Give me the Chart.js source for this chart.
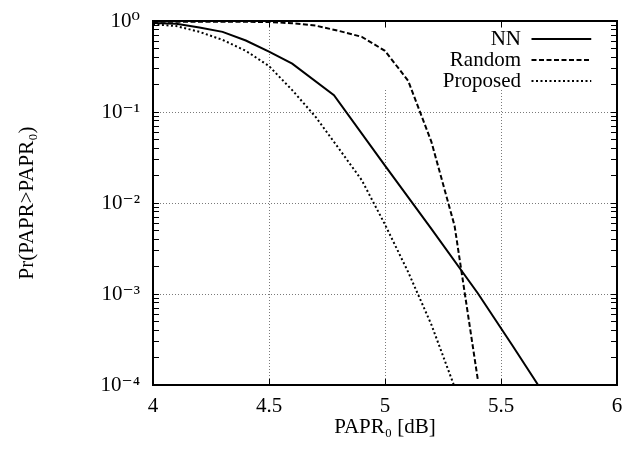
<!DOCTYPE html>
<html><head><meta charset="utf-8">
<script src="https://cdn.jsdelivr.net/npm/chart.js@4"></script>
<style>html,body{margin:0;padding:0;background:#fff}canvas{display:block}</style>
</head><body>
<canvas id="c" width="635" height="453"></canvas>
<script>
// ---- data ----
const seriesNames = ['NN', 'Random', 'Proposed'];

const xNN = [4.0, 4.1, 4.2, 4.3, 4.4, 4.5, 4.6, 4.78, 5.0, 5.2, 5.4, 5.55, 5.66];
const yNN = [0.95, 0.93, 0.85, 0.76, 0.61, 0.46, 0.34, 0.153, 0.0257, 0.0052, 0.00102, 0.00027, 0.0001];

const xRandom = [4.0, 4.2, 4.4, 4.5, 4.6, 4.7, 4.8, 4.9, 5.0, 5.1, 5.2, 5.3, 5.4];
const yRandom = [0.98, 0.98, 0.98, 0.975, 0.945, 0.89, 0.78, 0.67, 0.47, 0.22, 0.047, 0.0056, 0.000115];

const xProposed = [4.0, 4.1, 4.2, 4.3, 4.4, 4.5, 4.6, 4.7, 4.8, 4.9, 5.0, 5.1, 5.2, 5.3];
const yProposed = [0.92, 0.88, 0.76, 0.62, 0.47, 0.32, 0.174, 0.089, 0.040, 0.0178, 0.0058, 0.00174, 0.00046, 0.000095];

const xTickValues = [4, 4.5, 5, 5.5, 6];
const xTickLabels = ['4', '4.5', '5', '5.5', '6'];
const yDecadeExponents = [-4, -3, -2, -1, 0];
const yTickLabels = ['10\u207B\u2074', '10\u207B\u00B3', '10\u207B\u00B2', '10\u207B\u00B9', '10\u2070'];

const xTitle = 'PAPR\u2080 [dB]';
const yTitle = 'Pr(PAPR>PAPR\u2080)';

// ---- helpers ----
const yTickValues = [];
yDecadeExponents.forEach((e, i) => {
  const base = Math.pow(10, e);
  if (i === yDecadeExponents.length - 1) { yTickValues.push(base); return; }
  for (let m = 1; m <= 9; m++) yTickValues.push(m * base);
});
function decadeIndex(v) {
  const l = Math.log10(v);
  return yDecadeExponents.findIndex(e => Math.abs(l - e) < 1e-6);
}
function yLabel(v) { const i = decadeIndex(v); return i >= 0 ? yTickLabels[i] : ''; }
function xLabel(v) { const i = xTickValues.findIndex(t => Math.abs(t - v) < 1e-9); return i >= 0 ? xTickLabels[i] : ''; }
const GRID = '#7a7a7a';
function yGridColor(ctx) {
  if (!ctx.tick) return 'rgba(0,0,0,0)';
  const i = decadeIndex(ctx.tick.value);
  return (i > 0 && i < yDecadeExponents.length - 1) ? GRID : 'rgba(0,0,0,0)';
}
function xGridColor(ctx) {
  if (!ctx.tick) return 'rgba(0,0,0,0)';
  const v = ctx.tick.value;
  return (v > xTickValues[0] + 1e-9 && v < xTickValues[xTickValues.length - 1] - 1e-9) ? GRID : 'rgba(0,0,0,0)';
}
const pts = (xs, ys) => xs.map((x, i) => ({ x: x, y: ys[i] }));
const noPad = s => { s.paddingTop = 0; s.paddingBottom = 0; s.paddingLeft = 0; s.paddingRight = 0; };

Chart.defaults.font.family = '"Liberation Serif", "DejaVu Serif", serif';
Chart.defaults.color = '#000';

const legendPlace = {
  id: 'legendPlace',
  afterLayout(chart) {
    const L = chart.legend, a = chart.chartArea;
    const right = a.right - 25.5;
    L.left = right - L.width; L.right = right;
    L.top = a.top + 7.5; L.bottom = L.top + L.height;
  }
};
const keyBackdrop = {
  id: 'keyBackdrop',
  beforeDatasetsDraw(chart) {
    const { ctx, chartArea: a, scales } = chart;
    const x0 = scales.x.getPixelForValue(4.97);
    const y1 = scales.y.getPixelForValue(0.18);
    ctx.save();
    ctx.fillStyle = '#fff';
    ctx.fillRect(x0, a.top + 7, a.right - 10 - x0, y1 - a.top - 7);
    ctx.restore();
    chart.legend.draw(a);
  }
};

const sideAxis = (type, position, min, max, ticksFn, fit) => ({
  type, position, min, max,
  afterBuildTicks: s => { s.ticks = ticksFn().map(v => ({ value: v })); },
  afterFit: s => { fit(s); noPad(s); },
  ticks: { display: false },
  grid: { drawOnChartArea: false, drawTicks: true, tickLength: -6, tickColor: '#000', tickWidth: 1 },
  border: { display: true, color: '#000', width: 2 }
});

new Chart(document.getElementById('c'), {
  type: 'line',
  data: {
    datasets: [
      { label: seriesNames[0], data: pts(xNN, yNN), borderColor: '#000', backgroundColor: 'rgba(0,0,0,0)',
        borderWidth: 2, pointRadius: 0, tension: 0, fill: false },
      { label: seriesNames[1], data: pts(xRandom, yRandom), borderColor: '#000', backgroundColor: 'rgba(0,0,0,0)',
        borderWidth: 2, borderDash: [5, 2.5], pointRadius: 0, tension: 0, fill: false },
      { label: seriesNames[2], data: pts(xProposed, yProposed), borderColor: '#000', backgroundColor: 'rgba(0,0,0,0)',
        borderWidth: 2, borderDash: [2, 2.5], pointRadius: 0, tension: 0, fill: false }
    ]
  },
  options: {
    responsive: false,
    animation: false,
    layout: { padding: { top: 21, right: 18, bottom: 0, left: 0 } },
    plugins: {
      tooltip: { enabled: false },
      legend: {
        position: 'chartArea', align: 'start', rtl: true,
        labels: {
          usePointStyle: true, pointStyle: 'line', pointStyleWidth: 60, boxWidth: 60, boxHeight: 10,
          padding: 0, color: '#000', font: { size: 21 },
          generateLabels: chart => {
            const items = Chart.defaults.plugins.legend.labels.generateLabels(chart);
            items.forEach(it => {
              const ds = chart.data.datasets[it.datasetIndex];
              it.lineDash = ds.borderDash || [];
              it.lineWidth = ds.borderWidth;
              it.strokeStyle = ds.borderColor;
              it.fillStyle = 'rgba(0,0,0,0)';
              it.pointStyle = 'line';
              it.lineCap = 'butt';
            });
            return items;
          }
        }
      }
    },
    scales: {
      x: {
        type: 'linear', position: 'bottom', min: 4, max: 6,
        afterBuildTicks: s => { s.ticks = xTickValues.map(v => ({ value: v })); },
        afterFit: s => { s.height = 68; noPad(s); },
        ticks: { autoSkip: false, maxRotation: 0, padding: 15, font: { size: 21 }, color: '#000', callback: v => xLabel(v) },
        grid: { color: xGridColor, lineWidth: 1, drawTicks: true, tickLength: -6, tickColor: '#000', tickWidth: 1 },
        border: { display: true, color: '#000', width: 2, dash: [1, 2] },
        title: { display: true, text: xTitle, font: { size: 21 }, color: '#000', padding: { top: 0, bottom: 13 } }
      },
      y: {
        type: 'logarithmic', position: 'left', min: 1e-4, max: 1,
        afterBuildTicks: s => { s.ticks = yTickValues.map(v => ({ value: v })); },
        afterFit: s => { s.width = 153; noPad(s); },
        ticks: { autoSkip: false, padding: 19, font: { size: 21 }, color: '#000', callback: v => yLabel(v) },
        grid: { color: yGridColor, lineWidth: 1, drawTicks: true, tickLength: -6, tickColor: '#000', tickWidth: 1 },
        border: { display: true, color: '#000', width: 2, dash: [1, 2] },
        title: { display: true, text: yTitle, font: { size: 21 }, color: '#000', padding: { top: 15, bottom: 0 } }
      },
      x2: sideAxis('linear', 'top', 4, 6, () => xTickValues, s => { s.height = 0; }),
      y2: sideAxis('logarithmic', 'right', 1e-4, 1, () => yTickValues, s => { s.width = 0; })
    }
  },
  plugins: [legendPlace, keyBackdrop]
});
</script>
</body></html>
